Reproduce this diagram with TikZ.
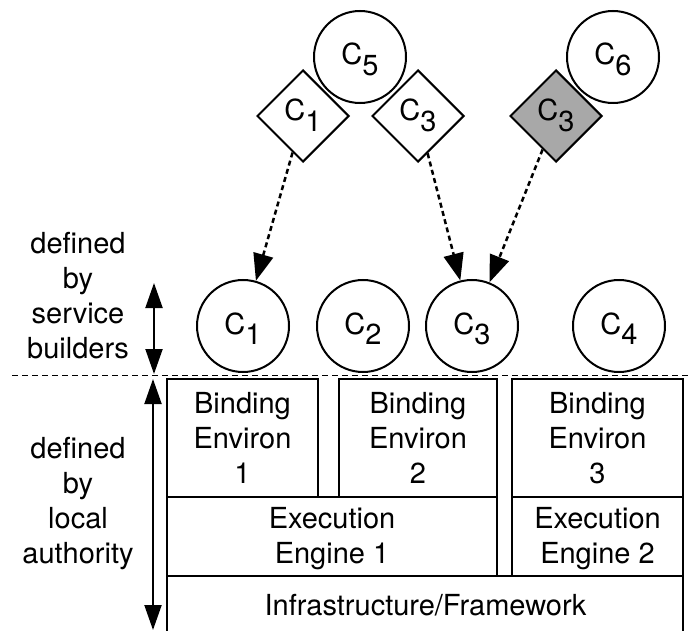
\documentclass[tikz,border=0pt]{standalone}
\usepackage{fontspec}
\setmainfont{TeX Gyre Heros}
\usetikzlibrary{shapes.geometric,arrows.meta}
\definecolor{shadegray}{RGB}{168,168,168}
\newcommand{\Csub}[1]{C\raisebox{-10.5bp}{#1}}
\newcommand{\lines}[1]{\begin{tabular}[t]{@{}c@{}}#1\end{tabular}}
\begin{document}
\begin{tikzpicture}[x=1bp,y=-1bp,
  every node/.style={font=\fontsize{29bp}{35bp}\selectfont},
  comp/.style={circle, draw, line width=2bp, minimum size=92bp, inner sep=0pt, fill=white, text height=22bp, text depth=6bp},
  conn/.style={diamond, draw, line width=2bp, minimum width=92bp, minimum height=92bp, inner sep=0pt, fill=white, text height=21bp, text depth=11bp},
  layer/.style={draw, line width=2bp, rectangle, inner sep=0pt},
  txt/.style={anchor=base, inner sep=0pt},
  deploy/.style={line width=2.5bp, dash pattern=on 5bp off 3.5bp, -{Triangle[length=27bp,width=20bp]}},
  span/.style={line width=2bp, {Triangle[length=25bp,width=17bp]}-{Triangle[length=25bp,width=17bp]}},
  sepline/.style={line width=1.6bp, dash pattern=on 6bp off 4bp}
]
\clip (0,0) rectangle (688,631);
% top: service compositions
\node[comp] (c5) at (360,57) {\Csub{5}};
\node[comp] (c6) at (613,57) {\Csub{6}};
\node[conn] (d1) at (303,116) {\Csub{1}};
\node[conn] (d3) at (418,116) {\Csub{3}};
\node[conn, fill=shadegray] (d3g) at (556,116) {\Csub{3}};
% deployed components
\node[comp] (c1) at (243,326) {\Csub{1}};
\node[comp] (c2) at (363,326) {\Csub{2}};
\node[comp] (c3) at (472,326) {\Csub{3}};
\node[comp] (c4) at (619,326) {\Csub{4}};
% arrows
\draw[deploy] (d1) -- (c1);
\draw[deploy] (d3) -- (c3);
\draw[deploy] (d3g) -- (c3);
% separator
\coordinate (sepL) at (12,375.5);
\coordinate (sepR) at (688,375.5);
\draw[sepline] (sepL) -- (sepR);
% layers
\node[layer, minimum width=151bp, minimum height=118bp] (be1) at (242.5,438) {};
\node[layer, minimum width=158bp, minimum height=118bp] (be2) at (418,438) {};
\node[layer, minimum width=171bp, minimum height=118bp] (be3) at (597.5,438) {};
\node[layer, minimum width=330bp, minimum height=79bp] (ee1) at (332,536.5) {};
\node[layer, minimum width=171bp, minimum height=79bp] (ee2) at (597.5,536.5) {};
\node[layer, minimum width=516bp, minimum height=70bp] (infra) at (425,611) {};
\node[txt] (tbe1) at (242.5,413) {\lines{Binding\\Environ\\1}};
\node[txt] (tbe2) at (418,413) {\lines{Binding\\Environ\\2}};
\node[txt] (tbe3) at (597.5,413) {\lines{Binding\\Environ\\3}};
\node[txt] (tee1) at (332,528) {\lines{Execution\\Engine 1}};
\node[txt] (tee2) at (597.5,528) {\lines{Execution\\Engine 2}};
\node[txt] (tinfra) at (425.5,615) {Infrastructure/Framework};
% left side labels
\node[txt] (lsb) at (78,253) {\lines{defined\\by\\service\\builders}};
\node[txt] (lla) at (78,458.5) {\lines{defined\\by\\local\\authority}};
\coordinate (ua1) at (154,283);
\coordinate (ua2) at (154,374);
\coordinate (la1) at (153,379);
\coordinate (la2) at (153,630);
\draw[span] (ua1) -- (ua2);
\draw[span] (la1) -- (la2);
\end{tikzpicture}
\end{document}
